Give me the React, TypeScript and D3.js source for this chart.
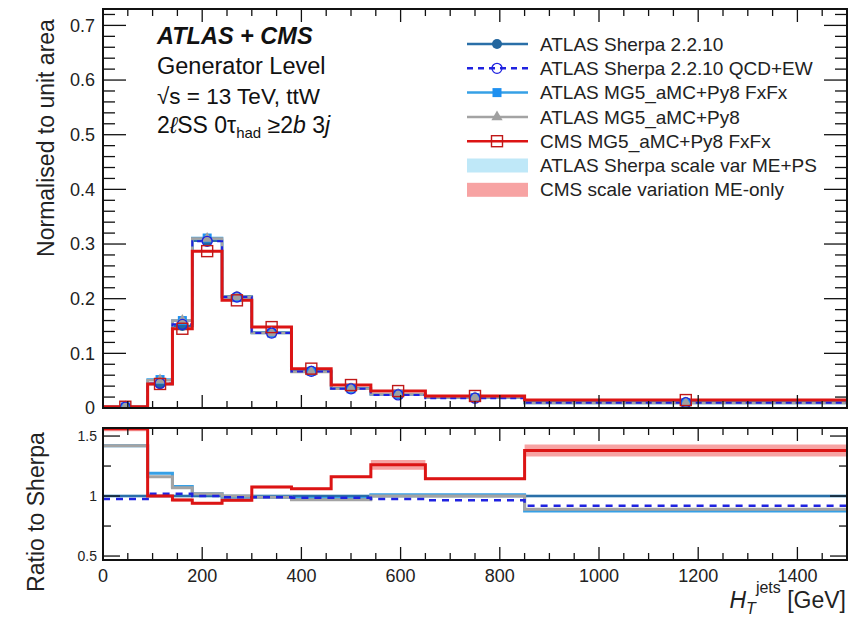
import React, { useRef, useEffect } from 'react';
import * as d3 from 'd3';

// bin edges in HT (GeV)
const binEdges = [0, 90, 140, 180, 240, 300, 380, 460, 540, 650, 850, 1500];

// normalised per-bin fractions (upper panel)
const sherpaMain = [0.0015, 0.044, 0.150, 0.306, 0.204, 0.138, 0.068, 0.036, 0.025, 0.019, 0.0105];
const qcdEwMain = [0.0015, 0.045, 0.153, 0.305, 0.203, 0.137, 0.067, 0.035, 0.024, 0.018, 0.0097];
const fxfxMain = [0.0021, 0.052, 0.160, 0.311, 0.202, 0.137, 0.067, 0.035, 0.025, 0.019, 0.0092];
const py8Main = [0.0021, 0.051, 0.160, 0.310, 0.203, 0.137, 0.066, 0.035, 0.025, 0.019, 0.0093];
const cmsMain = [0.0023, 0.044, 0.145, 0.287, 0.197, 0.148, 0.072, 0.042, 0.031, 0.022, 0.0145];

// ratio to Sherpa (lower panel)
const sherpaRatio = [1, 1, 1, 1, 1, 1, 1, 1, 1, 1, 1];
const sherpaBandLo = [0.99, 0.99, 0.99, 0.99, 0.99, 0.99, 0.99, 0.99, 0.99, 0.99, 0.99];
const sherpaBandHi = [1.01, 1.01, 1.01, 1.01, 1.01, 1.01, 1.01, 1.01, 1.01, 1.01, 1.01];
const qcdEwRatio = [0.975, 1.02, 1.02, 1.0, 0.99, 0.99, 0.985, 0.985, 0.975, 0.965, 0.92];
const fxfxRatio = [1.42, 1.19, 1.08, 1.02, 0.99, 0.99, 0.98, 0.98, 1.01, 1.01, 0.875];
const py8Ratio = [1.42, 1.16, 1.07, 1.02, 1.0, 0.99, 0.97, 0.97, 1.0, 1.0, 0.89];
const cmsRatio = [1.56, 1.0, 0.967, 0.94, 0.965, 1.075, 1.06, 1.16, 1.26, 1.145, 1.38];
const cmsBandLo = [1.54, 0.99, 0.955, 0.93, 0.955, 1.065, 1.05, 1.15, 1.22, 1.135, 1.33];
const cmsBandHi = [1.58, 1.01, 0.98, 0.95, 0.975, 1.085, 1.07, 1.17, 1.30, 1.155, 1.43];

const mainTicks = [0, 0.1, 0.2, 0.3, 0.4, 0.5, 0.6, 0.7];
const ratioTicks = [0.5, 1, 1.5];
const xTicks = [0, 200, 400, 600, 800, 1000, 1200, 1400];

const legendLabels = [
    'ATLAS Sherpa 2.2.10',
    'ATLAS Sherpa 2.2.10 QCD+EW',
    'ATLAS MG5_aMC+Py8 FxFx',
    'ATLAS MG5_aMC+Py8',
    'CMS MG5_aMC+Py8 FxFx',
    'ATLAS Sherpa scale var ME+PS',
    'CMS scale variation ME-only',
];

const FONT = 'Liberation Sans, Arial, Helvetica, sans-serif';
const C_SHERPA = '#2a6fa8';
const C_QCDEW = '#1f22e0';
const C_FXFX = '#36a0e6';
const C_PY8 = '#a3a3a3';
const C_CMS = '#dc1414';
const C_SHERPA_BAND = '#bfe8f8';
const C_CMS_BAND = '#f7a3a3';

function steps(vals: number[]) {
    const pts = vals.map((v, i) => ({ x: binEdges[i], y: v }));
    pts.push({ x: binEdges[binEdges.length - 1], y: vals[vals.length - 1] });
    return pts;
}

function bandSteps(lo: number[], hi: number[]) {
    const pts = lo.map((v, i) => ({ x: binEdges[i], lo: v, hi: hi[i] }));
    pts.push({ x: binEdges[binEdges.length - 1], lo: lo[lo.length - 1], hi: hi[hi.length - 1] });
    return pts;
}

export default function App() {
    const svgRef = useRef<SVGSVGElement>(null);

    useEffect(() => {
        const svg = d3.select(svgRef.current);
        svg.selectAll('*').remove();

        const left = 103, right = 847;
        const mainTop = 9, mainBottom = 408;
        const ratTop = 428, ratBottom = 560;

        const x = d3.scaleLinear().domain([0, 1500]).range([left, right]);
        const yMain = d3.scaleLinear().domain([0, 0.73]).range([mainBottom, mainTop]);
        const yRat = d3.scaleLinear().domain([0.467, 1.567]).range([ratBottom, ratTop]);

        const defs = svg.append('defs');
        defs.append('clipPath').attr('id', 'clipMain')
            .append('rect').attr('x', left).attr('y', mainTop).attr('width', right - left).attr('height', mainBottom - mainTop);
        defs.append('clipPath').attr('id', 'clipRat')
            .append('rect').attr('x', left).attr('y', ratTop).attr('width', right - left).attr('height', ratBottom - ratTop);

        // ---------- upper panel ----------
        const gMain = svg.append('g').attr('clip-path', 'url(#clipMain)');
        const lineMain = d3.line<{ x: number; y: number }>()
            .x(d => x(d.x)).y(d => yMain(d.y)).curve(d3.curveStepAfter);

        const mainSeries = [
            { vals: sherpaMain, color: C_SHERPA, w: 2.5, dash: null },
            { vals: fxfxMain, color: C_FXFX, w: 2.5, dash: null },
            { vals: py8Main, color: C_PY8, w: 2.5, dash: null },
            { vals: qcdEwMain, color: C_QCDEW, w: 2, dash: '6,4' },
            { vals: cmsMain, color: C_CMS, w: 3, dash: null },
        ];
        mainSeries.forEach(s => {
            gMain.append('path')
                .datum(steps(s.vals))
                .attr('fill', 'none')
                .attr('stroke', s.color)
                .attr('stroke-width', s.w)
                .attr('stroke-dasharray', s.dash)
                .attr('d', lineMain);
        });

        // markers at bin centres
        const centres = binEdges.slice(0, -1).map((e, i) => (e + binEdges[i + 1]) / 2);
        const drawMarker = (g: any, kind: string, cx: number, cy: number) => {
            if (kind === 'sherpa') {
                g.append('circle').attr('cx', cx).attr('cy', cy).attr('r', 5).attr('fill', '#23669e');
            } else if (kind === 'qcdew') {
                g.append('circle').attr('cx', cx).attr('cy', cy).attr('r', 5).attr('fill', 'none')
                    .attr('stroke', C_QCDEW).attr('stroke-width', 1.3);
            } else if (kind === 'fxfx') {
                g.append('rect').attr('x', cx - 4.5).attr('y', cy - 4.5).attr('width', 9).attr('height', 9).attr('fill', '#1e90f0');
            } else if (kind === 'py8') {
                g.append('path').attr('d', d3.symbol(d3.symbolTriangle, 55)()).attr('transform', `translate(${cx},${cy})`)
                    .attr('fill', '#a0a0a0');
            } else if (kind === 'cms') {
                g.append('rect').attr('x', cx - 5.5).attr('y', cy - 5.5).attr('width', 11).attr('height', 11)
                    .attr('fill', 'none').attr('stroke', '#c01818').attr('stroke-width', 1.4);
            }
        };
        const markerSets = [
            { vals: sherpaMain, kind: 'sherpa' },
            { vals: fxfxMain, kind: 'fxfx' },
            { vals: py8Main, kind: 'py8' },
            { vals: qcdEwMain, kind: 'qcdew' },
            { vals: cmsMain, kind: 'cms' },
        ];
        markerSets.forEach(m => {
            m.vals.forEach((v, i) => drawMarker(gMain, m.kind, x(centres[i]), yMain(v)));
        });

        // ---------- ratio panel ----------
        const gRat = svg.append('g').attr('clip-path', 'url(#clipRat)');
        const lineRat = d3.line<{ x: number; y: number }>()
            .x(d => x(d.x)).y(d => yRat(d.y)).curve(d3.curveStepAfter);
        const areaRat = d3.area<{ x: number; lo: number; hi: number }>()
            .x(d => x(d.x)).y0(d => yRat(d.lo)).y1(d => yRat(d.hi)).curve(d3.curveStepAfter);

        gRat.append('path').datum(bandSteps(sherpaBandLo, sherpaBandHi))
            .attr('fill', C_SHERPA_BAND).attr('d', areaRat);
        gRat.append('path').datum(bandSteps(cmsBandLo, cmsBandHi))
            .attr('fill', C_CMS_BAND).attr('d', areaRat);

        const ratSeries = [
            { vals: sherpaRatio, color: C_SHERPA, w: 2.5, dash: null },
            { vals: fxfxRatio, color: C_FXFX, w: 3, dash: null },
            { vals: py8Ratio, color: C_PY8, w: 3, dash: null },
            { vals: qcdEwRatio, color: C_QCDEW, w: 2.5, dash: '7,6' },
            { vals: cmsRatio, color: C_CMS, w: 3, dash: null },
        ];
        ratSeries.forEach(s => {
            gRat.append('path')
                .datum(steps(s.vals))
                .attr('fill', 'none')
                .attr('stroke', s.color)
                .attr('stroke-width', s.w)
                .attr('stroke-dasharray', s.dash)
                .attr('d', lineRat);
        });

        // ---------- frames and ticks ----------
        const tickLine = (x1: number, y1: number, x2: number, y2: number, w = 1.3) => {
            svg.append('line').attr('x1', x1).attr('y1', y1).attr('x2', x2).attr('y2', y2)
                .attr('stroke', '#111').attr('stroke-width', w);
        };

        const xMinor = d3.range(0, 1501, 50);
        [[mainTop, mainBottom], [ratTop, ratBottom]].forEach(([t, b]) => {
            xMinor.forEach(v => {
                const major = v % 200 === 0;
                const len = major ? 13 : 7;
                tickLine(x(v), b, x(v), b - len);
                tickLine(x(v), t, x(v), t + len);
            });
        });

        d3.range(0, 0.7201, 0.02).forEach(v => {
            const major = Math.abs(v * 10 - Math.round(v * 10)) < 1e-6;
            const len = major ? 23 : 12;
            tickLine(left, yMain(v), left + len, yMain(v));
            tickLine(right, yMain(v), right - len, yMain(v));
        });
        d3.range(0.5, 1.501, 0.25).forEach(v => {
            const major = Math.abs(v * 2 - Math.round(v * 2)) < 1e-6;
            const len = major ? 17 : 8;
            tickLine(left, yRat(v), left + len, yRat(v));
            tickLine(right, yRat(v), right - len, yRat(v));
        });

        svg.append('rect').attr('x', left).attr('y', mainTop).attr('width', right - left).attr('height', mainBottom - mainTop)
            .attr('fill', 'none').attr('stroke', '#111').attr('stroke-width', 2);
        svg.append('rect').attr('x', left).attr('y', ratTop).attr('width', right - left).attr('height', ratBottom - ratTop)
            .attr('fill', 'none').attr('stroke', '#111').attr('stroke-width', 2);

        // tick labels
        svg.append('g').selectAll('text').data(mainTicks).join('text')
            .attr('x', left - 8).attr('y', d => yMain(d)).attr('dy', '0.35em')
            .attr('text-anchor', 'end').attr('font-size', 18).attr('font-family', FONT).attr('fill', '#222')
            .text(d => d === 0 ? '0' : d3.format('.1f')(d));
        svg.append('g').selectAll('text').data(ratioTicks).join('text')
            .attr('x', left - 6).attr('y', d => yRat(d)).attr('dy', '0.35em')
            .attr('text-anchor', 'end').attr('font-size', 14).attr('font-family', FONT).attr('fill', '#222')
            .text(d => String(d));
        svg.append('g').selectAll('text').data(xTicks).join('text')
            .attr('x', d => x(d)).attr('y', 582)
            .attr('text-anchor', 'middle').attr('font-size', 18).attr('font-family', FONT).attr('fill', '#222')
            .text(d => String(d));

        // axis titles
        svg.append('text')
            .attr('transform', 'translate(54,138) rotate(-90)')
            .attr('text-anchor', 'middle').attr('font-size', 23).attr('font-family', FONT).attr('fill', '#222')
            .text('Normalised to unit area');
        svg.append('text')
            .attr('transform', 'translate(44,512) rotate(-90)')
            .attr('text-anchor', 'middle').attr('font-size', 23).attr('font-family', FONT).attr('fill', '#222')
            .text('Ratio to Sherpa');

        const xTitle = svg.append('text')
            .attr('x', right - 1).attr('y', 608).attr('text-anchor', 'end')
            .attr('font-size', 23).attr('font-family', FONT).attr('fill', '#222');
        xTitle.append('tspan').attr('font-style', 'italic').text('H');
        xTitle.append('tspan').attr('font-style', 'italic').attr('font-size', 16).attr('dy', 6).text('T');
        xTitle.append('tspan').attr('font-size', 16).attr('dy', -21).text('jets');
        xTitle.append('tspan').attr('dy', 15).text(' [GeV]');

        // top-left labels
        const info = svg.append('g').attr('font-family', FONT).attr('fill', '#111');
        info.append('text').attr('x', 157).attr('y', 44).attr('font-size', 23.5)
            .attr('font-weight', 'bold').attr('font-style', 'italic').text('ATLAS + CMS');
        info.append('text').attr('x', 157).attr('y', 74).attr('font-size', 23.5).text('Generator Level');
        info.append('text').attr('x', 157).attr('y', 104).attr('font-size', 22.5).text('√s = 13 TeV, ttW');
        const sel = info.append('text').attr('x', 157).attr('y', 133).attr('font-size', 23);
        sel.append('tspan').text('2');
        sel.append('tspan').attr('font-style', 'italic').text('ℓ');
        sel.append('tspan').text('SS 0τ');
        sel.append('tspan').attr('font-size', 15).attr('dy', 5).text('had');
        sel.append('tspan').attr('dy', -5).text(' ≥2');
        sel.append('tspan').attr('font-style', 'italic').text('b');
        sel.append('tspan').text(' 3');
        sel.append('tspan').attr('font-style', 'italic').text('j');

        // legend
        const lx1 = 467, lx2 = 528, lmid = 497, ltx = 540;
        const rowY = (i: number) => 44 + i * 24.3;
        const legLines = [
            { color: C_SHERPA, dash: null, kind: 'sherpa' },
            { color: C_QCDEW, dash: '6,5', kind: 'qcdew' },
            { color: C_FXFX, dash: null, kind: 'fxfx' },
            { color: C_PY8, dash: null, kind: 'py8' },
            { color: C_CMS, dash: null, kind: 'cms' },
        ];
        const gLeg = svg.append('g');
        legLines.forEach((l, i) => {
            gLeg.append('line').attr('x1', lx1).attr('x2', lx2).attr('y1', rowY(i)).attr('y2', rowY(i))
                .attr('stroke', l.color).attr('stroke-width', 2.5).attr('stroke-dasharray', l.dash);
            drawMarker(gLeg, l.kind, lmid, rowY(i));
        });
        [C_SHERPA_BAND, C_CMS_BAND].forEach((c, j) => {
            gLeg.append('rect').attr('x', lx1).attr('y', rowY(5 + j) - 7).attr('width', lx2 - lx1).attr('height', 14)
                .attr('fill', c);
        });
        gLeg.selectAll('text.leg').data(legendLabels).join('text')
            .attr('class', 'leg')
            .attr('x', ltx).attr('y', (d, i) => rowY(i)).attr('dy', '0.35em')
            .attr('font-size', 19).attr('font-family', FONT).attr('fill', '#222')
            .text(d => d);
    }, []);

    return (
        <svg ref={svgRef} width={848} height={618}
            style={{ position: 'absolute', left: 0, top: 0, background: '#fff' }} />
    );
}
